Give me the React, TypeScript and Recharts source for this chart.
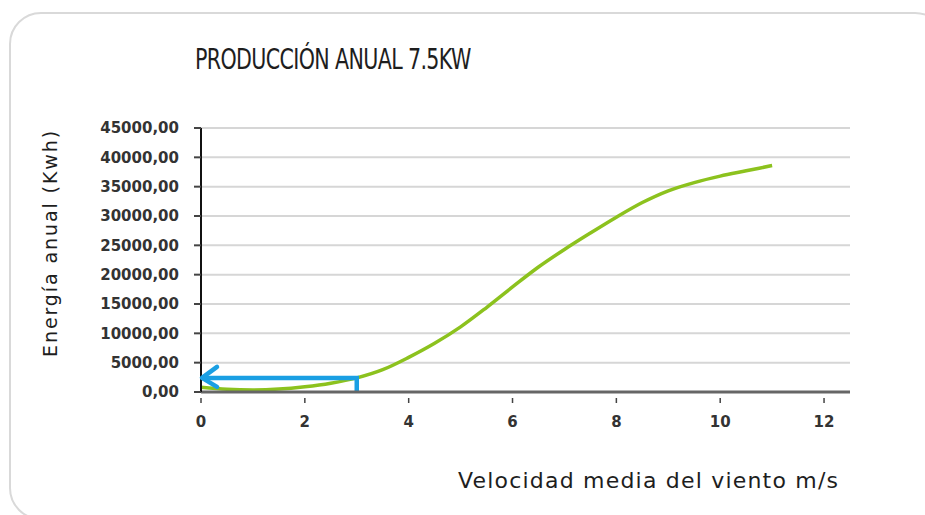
import React from "react";
import {
  LineChart,
  Line,
  XAxis,
  YAxis,
  CartesianGrid,
} from "recharts";

// wind speed (m/s) and annual energy (kWh)
const windSpeed = [0, 0.5, 1, 1.5, 2, 2.5, 3, 3.5, 4, 4.5, 5, 5.5, 6, 6.5, 7, 7.5, 8, 8.5, 9, 9.5, 10, 10.5, 11];
const energy = [800, 450, 350, 500, 900, 1500, 2400, 3800, 5900, 8300, 11100, 14400, 17900, 21300, 24300, 27100, 29800, 32300, 34300, 35700, 36800, 37700, 38600];

// the blue arrow: from 3 m/s up to the curve, then back to the y axis
const arrowX = [0, 3, 3];
const arrowY = [2400, 2400, 0];

const xTicks = [0, 2, 4, 6, 8, 10, 12];
const yTicks = [0, 5000, 10000, 15000, 20000, 25000, 30000, 35000, 40000, 45000];

const curve = windSpeed.map((x, i) => ({ x, y: energy[i] }));
const arrow = arrowX.map((x, i) => ({ x, y: arrowY[i] }));

const tickFont = "'DejaVu Sans', Verdana, sans-serif";

function XTick(props: any) {
  const { x, y, payload } = props;
  return (
    <g>
      <line x1={x} x2={x} y1={y + 6} y2={y + 11} stroke="#444" strokeWidth={1.5} />
      <text
        x={x}
        y={y + 30}
        textAnchor="middle"
        dominantBaseline="middle"
        fontFamily={tickFont}
        fontWeight="bold"
        fontSize={15}
        fill="#333"
      >
        {payload.value}
      </text>
    </g>
  );
}

function ArrowHead(props: any) {
  const { cx, cy, index } = props;
  if (index !== 0) return <g key={index} />;
  return (
    <polyline
      key={index}
      points={`${cx + 16},${cy - 11} ${cx + 1},${cy} ${cx + 16},${cy + 9}`}
      fill="none"
      stroke="#1a9fe3"
      strokeWidth={4.5}
      strokeLinecap="round"
      strokeLinejoin="round"
    />
  );
}

export default function App() {
  return (
    <div
      style={{
        position: "absolute",
        left: 0,
        top: 0,
        width: 925,
        height: 515,
        overflow: "hidden",
        background: "#fff",
      }}
    >
      <div
        style={{
          position: "absolute",
          left: 9,
          top: 12,
          width: 934,
          height: 504,
          border: "2px solid #d9d9d9",
          borderRadius: 32,
        }}
      />
      <div
        style={{
          position: "absolute",
          left: 195,
          top: 42,
          fontFamily: "'DejaVu Sans Condensed', sans-serif",
          fontSize: 29,
          letterSpacing: -0.8,
          color: "#1e1e1e",
          whiteSpace: "nowrap",
          transform: "scaleX(0.79)",
          transformOrigin: "left top",
        }}
      >
        PRODUCCIÓN ANUAL 7.5KW
      </div>
      <div
        style={{
          position: "absolute",
          left: 50,
          top: 243,
          transform: "translate(-50%, -50%) rotate(-90deg)",
          fontFamily: tickFont,
          fontSize: 19,
          letterSpacing: 1.9,
          color: "#1e1e1e",
          whiteSpace: "nowrap",
        }}
      >
        Energía anual (Kwh)
      </div>
      <div
        style={{
          position: "absolute",
          left: 458,
          top: 468,
          fontFamily: tickFont,
          fontSize: 22,
          letterSpacing: 1.2,
          color: "#1e1e1e",
          whiteSpace: "nowrap",
        }}
      >
        Velocidad media del viento m/s
      </div>
      <div style={{ position: "absolute", left: 0, top: 0 }}>
        <LineChart
          width={925}
          height={515}
          margin={{ top: 128, right: 75, bottom: 83, left: 0 }}
        >
          <CartesianGrid vertical={false} stroke="#d6d6d6" strokeWidth={2} />
          <XAxis
            type="number"
            dataKey="x"
            domain={[0, 12.5]}
            ticks={xTicks}
            height={40}
            tickSize={0}
            tickMargin={0}
            tickLine={false}
            axisLine={{ stroke: "#666", strokeWidth: 3 }}
            tick={<XTick />}
          />
          <YAxis
            type="number"
            dataKey="y"
            domain={[0, 45000]}
            ticks={yTicks}
            width={201}
            tickSize={7}
            tickMargin={15}
            tickLine={{ stroke: "#444", strokeWidth: 2 }}
            axisLine={{ stroke: "#111", strokeWidth: 2 }}
            tickFormatter={(v: number) => `${v},00`}
            tick={{
              fontFamily: tickFont,
              fontWeight: "bold",
              fontSize: 15,
              fill: "#333",
            }}
          />
          <Line
            data={curve}
            dataKey="y"
            type="monotone"
            stroke="#8cc21e"
            strokeWidth={3.5}
            dot={false}
            isAnimationActive={false}
          />
          <Line
            data={arrow}
            dataKey="y"
            type="linear"
            stroke="#1a9fe3"
            strokeWidth={4.5}
            dot={<ArrowHead />}
            activeDot={false}
            isAnimationActive={false}
          />
        </LineChart>
      </div>
    </div>
  );
}
